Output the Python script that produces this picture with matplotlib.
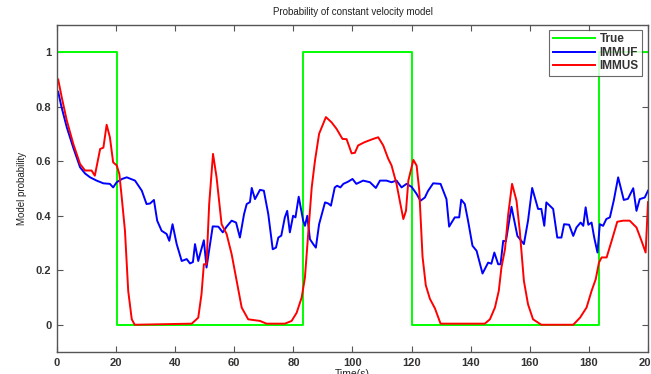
import matplotlib
matplotlib.use("Agg")
import matplotlib.pyplot as plt

plt.rcParams['font.family'] = ['Liberation Sans', 'DejaVu Sans']

# true model switching (value holds from each time until the next)
true_t = [0, 20.4, 83.3, 120.2, 183.4, 200]
true_y = [1, 0, 1, 0, 1, 1]

immuf_t = [0.4, 1.5, 3.3, 5.5, 7.8, 9.5, 11.2, 13.4, 15.7, 17.9, 19.0, 20.2, 22.0, 23.6, 26.4,
           28.7, 30.3, 31.5, 32.8, 33.9, 35.4, 37.1, 38.0, 39.1, 40.5, 42.2, 43.9, 45.0, 46.0,
           46.7, 47.8, 48.4, 49.7, 50.6, 52.7, 54.6, 56.1, 57.4, 59.1, 60.6, 61.9, 63.3, 64.2,
           65.3, 65.9, 67.0, 68.7, 70.0, 71.5, 73.0, 74.1, 74.9, 75.9, 77.1, 77.9, 78.8, 79.9,
           80.7, 81.8, 83.3, 83.9, 84.7, 85.6, 86.7, 87.6, 88.7, 90.7, 91.8, 92.7, 94.0, 94.8,
           95.9, 96.9, 98.5, 100.0, 101.3, 103.6, 105.9, 107.9, 109.3, 111.5, 113.2, 114.9,
           116.6, 118.3, 120.0, 121.7, 123.0, 124.5, 125.5, 127.3, 129.8, 131.8, 132.7, 134.6,
           136.1, 136.8, 138.0, 139.1, 140.6, 142.0, 144.0, 145.9, 147.0, 148.0, 149.3, 150.1,
           151.0, 151.9, 153.8, 155.8, 158.0, 159.4, 160.8, 162.8, 163.9, 164.9, 165.6, 167.9,
           169.3, 170.7, 171.6, 173.3, 174.7, 175.8, 177.2, 178.1, 178.9, 179.8, 180.9, 181.8,
           182.9, 183.7, 184.8, 185.9, 187.1, 188.4, 189.9, 191.8, 193.2, 195.0, 196.1, 197.2,
           198.9, 200.0]
immuf_y = [0.855, 0.80, 0.725, 0.65, 0.578, 0.555, 0.541, 0.529, 0.519, 0.517, 0.504, 0.523,
           0.535, 0.541, 0.529, 0.492, 0.443, 0.445, 0.458, 0.382, 0.345, 0.333, 0.308, 0.369,
           0.296, 0.234, 0.241, 0.225, 0.23, 0.296, 0.234, 0.259, 0.31, 0.21, 0.361, 0.36,
           0.339, 0.36, 0.382, 0.375, 0.32, 0.406, 0.443, 0.45, 0.502, 0.461, 0.495, 0.492,
           0.406, 0.277, 0.283, 0.32, 0.327, 0.394, 0.418, 0.339, 0.40, 0.394, 0.47, 0.382,
           0.363, 0.40, 0.314, 0.296, 0.283, 0.369, 0.449, 0.445, 0.437, 0.504, 0.51, 0.504,
           0.517, 0.525, 0.535, 0.517, 0.529, 0.523, 0.502, 0.529, 0.529, 0.523, 0.529, 0.504,
           0.517, 0.506, 0.48, 0.455, 0.467, 0.49, 0.519, 0.517, 0.461, 0.36, 0.394, 0.394,
           0.459, 0.443, 0.382, 0.29, 0.271, 0.188, 0.228, 0.224, 0.265, 0.222, 0.222, 0.308,
           0.306, 0.433, 0.326, 0.296, 0.382, 0.502, 0.425, 0.425, 0.363, 0.449, 0.425, 0.32,
           0.32, 0.369, 0.367, 0.326, 0.357, 0.375, 0.363, 0.431, 0.367, 0.375, 0.32, 0.265,
           0.369, 0.363, 0.388, 0.394, 0.455, 0.541, 0.458, 0.462, 0.501, 0.418, 0.461, 0.467,
           0.492]

immus_t = [0.4, 1.6, 3.3, 5.5, 7.8, 9.5, 11.7, 12.8, 14.6, 15.7, 16.8, 17.9, 19.0, 20.2, 21.1,
           21.9, 23.0, 24.1, 25.3, 26.3, 45.6, 47.8, 48.9, 49.7, 50.6, 51.5, 52.8, 54.0, 55.7,
           57.4, 59.1, 60.8, 62.5, 64.7, 68.7, 70.9, 77.1, 79.4, 81.1, 82.8, 83.9, 85.0, 86.2,
           87.3, 88.7, 90.1, 91.0, 92.9, 94.6, 96.6, 98.0, 99.7, 100.8, 101.9, 104.1, 107.0,
           108.7, 110.4, 112.1, 113.2, 114.9, 116.0, 117.2, 118.1, 118.9, 120.6, 121.7, 122.6,
           123.7, 124.8, 126.2, 127.9, 129.8, 144.8, 146.5, 148.2, 149.5, 150.4, 151.6, 152.7,
           154.0, 155.5, 156.6, 158.0, 159.4, 161.1, 163.9, 174.7, 177.0, 179.2, 180.9, 182.3,
           183.4, 184.3, 186.0, 187.7, 189.6, 191.6, 193.8, 196.1, 197.8, 199.2, 200.0]
immus_y = [0.90, 0.835, 0.75, 0.664, 0.59, 0.566, 0.566, 0.547, 0.645, 0.65, 0.734, 0.688,
           0.596, 0.585, 0.553, 0.468, 0.345, 0.124, 0.02, 0.0, 0.004, 0.026, 0.112, 0.222,
           0.222, 0.443, 0.627, 0.541, 0.369, 0.333, 0.259, 0.161, 0.063, 0.02, 0.014, 0.004,
           0.004, 0.014, 0.044, 0.10, 0.173, 0.333, 0.504, 0.602, 0.701, 0.738, 0.762, 0.743,
           0.719, 0.682, 0.681, 0.629, 0.631, 0.658, 0.67, 0.682, 0.688, 0.658, 0.609, 0.585,
           0.517, 0.455, 0.388, 0.418, 0.529, 0.605, 0.584, 0.492, 0.25, 0.145, 0.095, 0.06,
           0.004, 0.004, 0.02, 0.063, 0.124, 0.21, 0.277, 0.406, 0.517, 0.455, 0.345, 0.161,
           0.075, 0.02, 0.0, 0.0, 0.026, 0.063, 0.124, 0.167, 0.228, 0.247, 0.247, 0.308,
           0.378, 0.382, 0.382, 0.357, 0.308, 0.265, 0.45]

fig = plt.figure(figsize=(6.51, 3.74), dpi=100)
ax = fig.add_axes([57/651, 22/374, 591/651, 327/374])

ax.step(true_t, true_y, where="post", color="#00ff00", lw=1.4, label="True")
ax.plot(immuf_t, immuf_y, color="#0000ff", lw=1.4, label="IMMUF")
ax.plot(immus_t, immus_y, color="#ff0000", lw=1.4, label="IMMUS")

ax.set_xlim(0, 200)
ax.set_ylim(-0.1, 1.1)
ax.set_xticks(range(0, 201, 20))
ax.set_yticks([0, 0.2, 0.4, 0.6, 0.8, 1])
ax.set_yticklabels(["0", "0.2", "0.4", "0.6", "0.8", "1"])
ax.tick_params(direction="in", length=4, top=True, right=True, color="#555555",
               labelsize=8, labelcolor="#333333", pad=4)
for lab in ax.get_xticklabels() + ax.get_yticklabels():
    lab.set_fontweight("bold")
for s in ax.spines.values():
    s.set_color("#555555")
    s.set_linewidth(1.0)

ax.set_title("Probability of constant velocity model", fontsize=7, color="#222222", pad=7)
ax.set_ylabel("Model probability", fontsize=7, color="#222222", labelpad=6)
ax.set_xlabel("Time(s)", fontsize=7.5, color="#222222", labelpad=1)

leg = ax.legend(loc="upper right", bbox_to_anchor=(0.99, 0.985), fontsize=8.5,
                frameon=True, fancybox=False, handlelength=3.6, handletextpad=0.35,
                borderpad=0.3, labelspacing=0.12, borderaxespad=0)
leg.get_frame().set_edgecolor("#444444")
leg.get_frame().set_linewidth(0.8)
for t in leg.get_texts():
    t.set_fontweight("bold")
    t.set_color("#333333")

fig.savefig("out.png", dpi=100)
